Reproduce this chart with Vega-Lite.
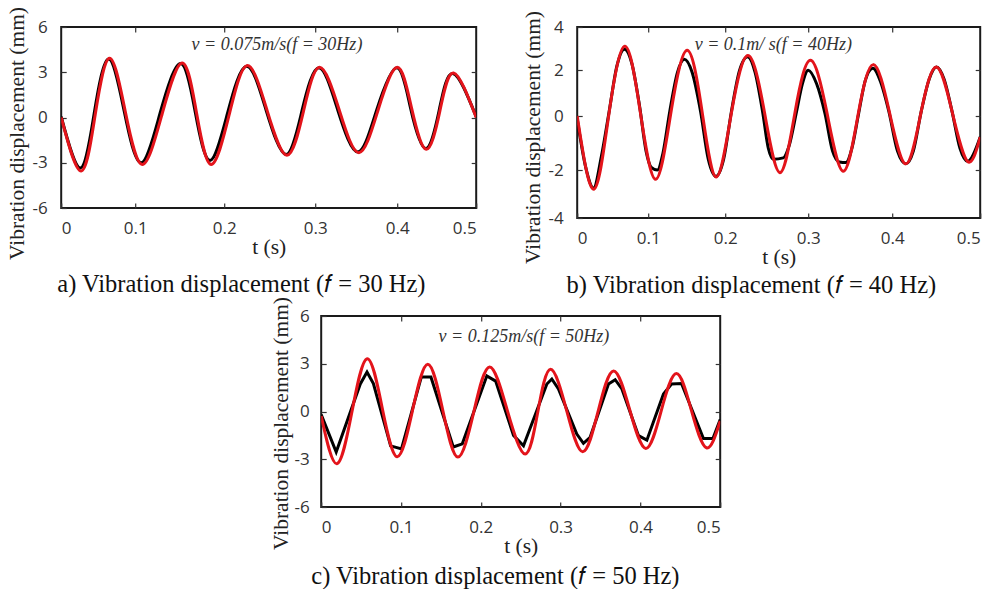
{
  "$schema": "https://vega.github.io/schema/vega-lite/v6.json",
  "background": "white",
  "padding": {"left": 5, "top": 5, "right": 3, "bottom": 0},
  "config": {
    "view": {"stroke": "#1a1a1a", "strokeWidth": 2},
    "title": {"font": "Liberation Serif", "fontSize": 24.5, "fontWeight": "normal", "color": "#111", "orient": "bottom", "anchor": "middle", "frame": "bounds", "offset": 8},
    "axis": {"grid": false, "domain": false, "tickSize": -5, "tickColor": "#333", "tickWidth": 1.2, "labelFont": "Open Sans", "labelFontSize": 17, "labelColor": "#333", "titleFont": "Liberation Serif", "titleFontSize": 21.5, "titleFontWeight": "normal", "titleColor": "#222"},
    "text": {"font": "Liberation Serif", "fontStyle": "italic", "fontSize": 18, "color": "#333"}
  },
  "datasets": {
    "a": [
      {"series": "Measured", "t": 0, "v": 0.05}, {"series": "Measured", "t": 0.026, "v": -3.35}, {"series": "Measured", "t": 0.0445, "v": 0.25}, {"series": "Measured", "t": 0.064, "v": 3.88}, {"series": "Measured", "t": 0.085, "v": 0.45}, {"series": "Measured", "t": 0.1065, "v": -3.0}, {"series": "Measured", "t": 0.128, "v": 0.3}, {"series": "Measured", "t": 0.151, "v": 3.58}, {"series": "Measured", "t": 0.1675, "v": 0.35}, {"series": "Measured", "t": 0.184, "v": -2.85}, {"series": "Measured", "t": 0.2035, "v": 0.25}, {"series": "Measured", "t": 0.2245, "v": 3.4}, {"series": "Measured", "t": 0.246, "v": 0.5}, {"series": "Measured", "t": 0.268, "v": -2.45}, {"series": "Measured", "t": 0.2855, "v": 0.45}, {"series": "Measured", "t": 0.3045, "v": 3.3}, {"series": "Measured", "t": 0.3275, "v": 0.5}, {"series": "Measured", "t": 0.352, "v": -2.28}, {"series": "Measured", "t": 0.375, "v": 0.5}, {"series": "Measured", "t": 0.3995, "v": 3.3}, {"series": "Measured", "t": 0.417, "v": 0.6}, {"series": "Measured", "t": 0.436, "v": -2.05}, {"series": "Measured", "t": 0.453, "v": 0.45}, {"series": "Measured", "t": 0.4705, "v": 2.92}, {"series": "Measured", "t": 0.5, "v": 0.05},
      {"series": "Simulated", "t": 0, "v": 0}, {"series": "Simulated", "t": 0.027, "v": -3.55}, {"series": "Simulated", "t": 0.046, "v": 0.2}, {"series": "Simulated", "t": 0.0653, "v": 3.93}, {"series": "Simulated", "t": 0.0866, "v": 0.4}, {"series": "Simulated", "t": 0.1079, "v": -3.11}, {"series": "Simulated", "t": 0.1303, "v": 0.25}, {"series": "Simulated", "t": 0.1528, "v": 3.62}, {"series": "Simulated", "t": 0.1691, "v": 0.25}, {"series": "Simulated", "t": 0.1854, "v": -3.11}, {"series": "Simulated", "t": 0.2054, "v": 0.17}, {"series": "Simulated", "t": 0.2253, "v": 3.44}, {"series": "Simulated", "t": 0.2471, "v": 0.47}, {"series": "Simulated", "t": 0.2689, "v": -2.51}, {"series": "Simulated", "t": 0.2871, "v": 0.41}, {"series": "Simulated", "t": 0.3053, "v": 3.33}, {"series": "Simulated", "t": 0.3293, "v": 0.5}, {"series": "Simulated", "t": 0.3533, "v": -2.33}, {"series": "Simulated", "t": 0.3767, "v": 0.5}, {"series": "Simulated", "t": 0.4, "v": 3.33}, {"series": "Simulated", "t": 0.4183, "v": 0.6}, {"series": "Simulated", "t": 0.4367, "v": -2.11}, {"series": "Simulated", "t": 0.454, "v": 0.42}, {"series": "Simulated", "t": 0.4713, "v": 2.95}, {"series": "Simulated", "t": 0.5, "v": 0}
    ],
    "bBlack": [
      {"series": "Measured", "t": 0, "v": -0.1}, {"series": "Measured", "t": 0.012, "v": -1.9}, {"series": "Measured", "t": 0.023, "v": -2.75}, {"series": "Measured", "t": 0.034, "v": -1.5}, {"series": "Measured", "t": 0.045, "v": 0.2}, {"series": "Measured", "t": 0.056, "v": 2.2}, {"series": "Measured", "t": 0.0665, "v": 2.97}, {"series": "Measured", "t": 0.077, "v": 2.3}, {"series": "Measured", "t": 0.088, "v": 0.4}, {"series": "Measured", "t": 0.097, "v": -1.3}, {"series": "Measured", "t": 0.104, "v": -1.9}, {"series": "Measured", "t": 0.112, "v": -2.0}, {"series": "Measured", "t": 0.119, "v": -1.4}, {"series": "Measured", "t": 0.128, "v": 0.2}, {"series": "Measured", "t": 0.138, "v": 1.9}, {"series": "Measured", "t": 0.147, "v": 2.5}, {"series": "Measured", "t": 0.157, "v": 1.9}, {"series": "Measured", "t": 0.168, "v": 0.2}, {"series": "Measured", "t": 0.178, "v": -1.6}, {"series": "Measured", "t": 0.188, "v": -2.27}, {"series": "Measured", "t": 0.198, "v": -1.6}, {"series": "Measured", "t": 0.2075, "v": 0.2}, {"series": "Measured", "t": 0.217, "v": 1.95}, {"series": "Measured", "t": 0.227, "v": 2.62}, {"series": "Measured", "t": 0.236, "v": 1.9}, {"series": "Measured", "t": 0.245, "v": 0.2}, {"series": "Measured", "t": 0.252, "v": -1.2}, {"series": "Measured", "t": 0.258, "v": -1.6}, {"series": "Measured", "t": 0.27, "v": -1.55}, {"series": "Measured", "t": 0.277, "v": -1.1}, {"series": "Measured", "t": 0.286, "v": 0.2}, {"series": "Measured", "t": 0.293, "v": 1.4}, {"series": "Measured", "t": 0.3, "v": 1.99}, {"series": "Measured", "t": 0.31, "v": 1.4}, {"series": "Measured", "t": 0.32, "v": 0.1}, {"series": "Measured", "t": 0.329, "v": -1.3}, {"series": "Measured", "t": 0.337, "v": -1.7}, {"series": "Measured", "t": 0.345, "v": -1.72}, {"series": "Measured", "t": 0.352, "v": -1.2}, {"series": "Measured", "t": 0.36, "v": 0.1}, {"series": "Measured", "t": 0.368, "v": 1.55}, {"series": "Measured", "t": 0.377, "v": 2.08}, {"series": "Measured", "t": 0.386, "v": 1.5}, {"series": "Measured", "t": 0.396, "v": 0.2}, {"series": "Measured", "t": 0.406, "v": -1.3}, {"series": "Measured", "t": 0.4156, "v": -1.77}, {"series": "Measured", "t": 0.424, "v": -1.3}, {"series": "Measured", "t": 0.433, "v": 0.2}, {"series": "Measured", "t": 0.442, "v": 1.6}, {"series": "Measured", "t": 0.4503, "v": 2.14}, {"series": "Measured", "t": 0.459, "v": 1.6}, {"series": "Measured", "t": 0.468, "v": 0.2}, {"series": "Measured", "t": 0.477, "v": -1.2}, {"series": "Measured", "t": 0.4856, "v": -1.68}, {"series": "Measured", "t": 0.5, "v": -0.78}
    ],
    "bRed": [
      {"series": "Simulated", "t": 0, "v": 0}, {"series": "Simulated", "t": 0.0235, "v": -2.8}, {"series": "Simulated", "t": 0.045, "v": 0.15}, {"series": "Simulated", "t": 0.067, "v": 3.1}, {"series": "Simulated", "t": 0.088, "v": 0.35}, {"series": "Simulated", "t": 0.1095, "v": -2.39}, {"series": "Simulated", "t": 0.13, "v": 0.25}, {"series": "Simulated", "t": 0.1506, "v": 2.92}, {"series": "Simulated", "t": 0.1695, "v": 0.3}, {"series": "Simulated", "t": 0.1883, "v": -2.29}, {"series": "Simulated", "t": 0.2078, "v": 0.2}, {"series": "Simulated", "t": 0.2273, "v": 2.68}, {"series": "Simulated", "t": 0.2466, "v": 0.3}, {"series": "Simulated", "t": 0.2659, "v": -2.11}, {"series": "Simulated", "t": 0.2843, "v": 0.2}, {"series": "Simulated", "t": 0.3027, "v": 2.45}, {"series": "Simulated", "t": 0.322, "v": 0.2}, {"series": "Simulated", "t": 0.3417, "v": -2.05}, {"series": "Simulated", "t": 0.3596, "v": 0.1}, {"series": "Simulated", "t": 0.3774, "v": 2.25}, {"series": "Simulated", "t": 0.3965, "v": 0.2}, {"series": "Simulated", "t": 0.4156, "v": -1.77}, {"series": "Simulated", "t": 0.433, "v": 0.2}, {"series": "Simulated", "t": 0.4503, "v": 2.14}, {"series": "Simulated", "t": 0.468, "v": 0.2}, {"series": "Simulated", "t": 0.4856, "v": -1.68}, {"series": "Simulated", "t": 0.5, "v": -0.78}
    ],
    "cBlack": [
      {"series": "Measured", "t": 0, "v": -0.2}, {"series": "Measured", "t": 0.0188, "v": -2.55}, {"series": "Measured", "t": 0.049, "v": 1.73}, {"series": "Measured", "t": 0.0574, "v": 2.48}, {"series": "Measured", "t": 0.0654, "v": 1.75}, {"series": "Measured", "t": 0.087, "v": -2.16}, {"series": "Measured", "t": 0.1006, "v": -2.35}, {"series": "Measured", "t": 0.1255, "v": 2.17}, {"series": "Measured", "t": 0.1375, "v": 2.17}, {"series": "Measured", "t": 0.1655, "v": -2.23}, {"series": "Measured", "t": 0.1768, "v": -2.03}, {"series": "Measured", "t": 0.2076, "v": 2.24}, {"series": "Measured", "t": 0.2186, "v": 1.91}, {"series": "Measured", "t": 0.241, "v": -1.5}, {"series": "Measured", "t": 0.2535, "v": -2.15}, {"series": "Measured", "t": 0.2828, "v": 1.73}, {"series": "Measured", "t": 0.289, "v": 2.04}, {"series": "Measured", "t": 0.2973, "v": 1.42}, {"series": "Measured", "t": 0.3203, "v": -1.42}, {"series": "Measured", "t": 0.3286, "v": -2.0}, {"series": "Measured", "t": 0.337, "v": -1.62}, {"series": "Measured", "t": 0.36, "v": 1.73}, {"series": "Measured", "t": 0.3684, "v": 2.0}, {"series": "Measured", "t": 0.3768, "v": 1.42}, {"series": "Measured", "t": 0.3976, "v": -1.52}, {"series": "Measured", "t": 0.4081, "v": -1.8}, {"series": "Measured", "t": 0.4289, "v": 1.1}, {"series": "Measured", "t": 0.439, "v": 1.73}, {"series": "Measured", "t": 0.4515, "v": 1.76}, {"series": "Measured", "t": 0.479, "v": -1.7}, {"series": "Measured", "t": 0.491, "v": -1.69}, {"series": "Measured", "t": 0.5, "v": -0.5}
    ],
    "cRed": [
      {"series": "Simulated", "t": 0, "v": -0.28}, {"series": "Simulated", "t": 0.0196, "v": -3.28}, {"series": "Simulated", "t": 0.0386, "v": 0.0}, {"series": "Simulated", "t": 0.0576, "v": 3.32}, {"series": "Simulated", "t": 0.0764, "v": 0.24}, {"series": "Simulated", "t": 0.0952, "v": -2.84}, {"series": "Simulated", "t": 0.1144, "v": 0.06}, {"series": "Simulated", "t": 0.1336, "v": 2.97}, {"series": "Simulated", "t": 0.1525, "v": 0.05}, {"series": "Simulated", "t": 0.1713, "v": -2.86}, {"series": "Simulated", "t": 0.1912, "v": -0.03}, {"series": "Simulated", "t": 0.211, "v": 2.8}, {"series": "Simulated", "t": 0.2333, "v": 0.06}, {"series": "Simulated", "t": 0.2556, "v": -2.67}, {"series": "Simulated", "t": 0.2715, "v": -0.01}, {"series": "Simulated", "t": 0.2874, "v": 2.65}, {"series": "Simulated", "t": 0.3076, "v": 0.06}, {"series": "Simulated", "t": 0.3277, "v": -2.53}, {"series": "Simulated", "t": 0.347, "v": 0.01}, {"series": "Simulated", "t": 0.3663, "v": 2.55}, {"series": "Simulated", "t": 0.3866, "v": 0.11}, {"series": "Simulated", "t": 0.4068, "v": -2.32}, {"series": "Simulated", "t": 0.426, "v": 0.03}, {"series": "Simulated", "t": 0.4452, "v": 2.38}, {"series": "Simulated", "t": 0.464, "v": 0.05}, {"series": "Simulated", "t": 0.4828, "v": -2.28}, {"series": "Simulated", "t": 0.5, "v": -0.6}
    ]
  },
  "vconcat": [
    {
      "hconcat": [
        {
          "width": 415, "height": 181,
          "title": {"text": "a) Vibration displacement (𝑓 = 30 Hz)", "offset": 13},
          "layer": [
            {
              "data": {"name": "a"},
              "mark": {"type": "line", "interpolate": "natural", "strokeWidth": 3, "clip": true},
              "encoding": {
                "x": {"field": "t", "type": "quantitative", "scale": {"domain": [0, 0.1, 0.2, 0.3, 0.4, 0.5], "range": [0, 74, 163, 254, 336, 415], "nice": false, "zero": false},
                  "axis": {"orient": "bottom", "values": [0, 0.1, 0.2, 0.3, 0.4, 0.5], "labelExpr": "datum.value == 0 ? '0' : format(datum.value, '.1f')", "labelPadding": 17, "title": "t (s)", "titleFont": "Liberation Serif", "titleFontSize": 21.5, "titleFontWeight": "normal", "titlePadding": 0}},
                "y": {"field": "v", "type": "quantitative", "scale": {"domain": [-6, 6], "nice": false, "zero": false},
                  "axis": {"orient": "left", "values": [-6, -3, 0, 3, 6], "labelExpr": "replace(datum.label, '−', '-')", "labelPadding": 19, "title": "Vibration displacement (mm)", "titleFont": "Liberation Serif", "titleFontSize": 21.5, "titleFontWeight": "normal", "titleY": 106, "titlePadding": 4}},
                "color": {"field": "series", "type": "nominal", "scale": {"domain": ["Measured", "Simulated"], "range": ["#000000", "#e3141b"]}, "legend": null}
              }
            },
            {
              "data": {"values": [{"t": 0.258, "v": 4.8, "label": "v = 0.075m/s(f = 30Hz)"}]},
              "mark": {"type": "text"},
              "encoding": {
                "x": {"field": "t", "type": "quantitative", "scale": {"domain": [0, 0.1, 0.2, 0.3, 0.4, 0.5], "range": [0, 74, 163, 254, 336, 415], "nice": false, "zero": false},
                  "axis": {"orient": "top", "values": [0.1, 0.2, 0.3, 0.4], "labels": false, "title": null}},
                "y": {"field": "v", "type": "quantitative", "scale": {"domain": [-6, 6], "nice": false, "zero": false},
                  "axis": {"orient": "right", "values": [-3, 0, 3], "labels": false, "title": null}},
                "text": {"field": "label"}
              }
            }
          ],
          "resolve": {"axis": {"x": "independent", "y": "independent"}}
        },
        {
          "width": 403, "height": 191,
          "title": {"text": "b) Vibration displacement (𝑓 = 40 Hz)", "offset": 6},
          "layer": [
            {
              "data": {"name": "bBlack"},
              "mark": {"type": "line", "interpolate": "monotone", "strokeWidth": 3, "clip": true, "color": "#000000"},
              "encoding": {
                "x": {"field": "t", "type": "quantitative", "scale": {"domain": [0, 0.1, 0.2, 0.3, 0.4, 0.5], "range": [0, 71, 148, 231, 315, 403], "nice": false, "zero": false},
                  "axis": {"orient": "bottom", "values": [0, 0.1, 0.2, 0.3, 0.4, 0.5], "labelExpr": "datum.value == 0 ? '0' : format(datum.value, '.1f')", "labelPadding": 17, "title": "t (s)", "titleFont": "Liberation Serif", "titleFontSize": 21.5, "titleFontWeight": "normal", "titlePadding": 0}},
                "y": {"field": "v", "type": "quantitative", "scale": {"domain": [-4, -2, 0, 2, 4], "range": [191, 143, 89, 43, 0], "nice": false, "zero": false},
                  "axis": {"orient": "left", "values": [-4, -2, 0, 2, 4], "labelExpr": "replace(datum.label, '−', '-')", "labelPadding": 19, "title": "Vibration displacement (mm)", "titleFont": "Liberation Serif", "titleFontSize": 21.5, "titleFontWeight": "normal", "titleY": 110, "titlePadding": 4}}
              }
            },
            {
              "data": {"name": "bRed"},
              "mark": {"type": "line", "interpolate": "natural", "strokeWidth": 3, "clip": true, "color": "#e3141b"},
              "encoding": {
                "x": {"field": "t", "type": "quantitative", "scale": {"domain": [0, 0.1, 0.2, 0.3, 0.4, 0.5], "range": [0, 71, 148, 231, 315, 403], "nice": false, "zero": false}, "axis": null},
                "y": {"field": "v", "type": "quantitative", "scale": {"domain": [-4, -2, 0, 2, 4], "range": [191, 143, 89, 43, 0], "nice": false, "zero": false}, "axis": null}
              }
            },
            {
              "data": {"values": [{"t": 0.258, "v": 3.16, "label": "v = 0.1m/ s(f = 40Hz)"}]},
              "mark": {"type": "text"},
              "encoding": {
                "x": {"field": "t", "type": "quantitative", "scale": {"domain": [0, 0.1, 0.2, 0.3, 0.4, 0.5], "range": [0, 71, 148, 231, 315, 403], "nice": false, "zero": false},
                  "axis": {"orient": "top", "values": [0.1, 0.2, 0.3, 0.4], "labels": false, "title": null}},
                "y": {"field": "v", "type": "quantitative", "scale": {"domain": [-4, -2, 0, 2, 4], "range": [191, 143, 89, 43, 0], "nice": false, "zero": false},
                  "axis": {"orient": "right", "values": [-2, 0, 2], "labels": false, "title": null}},
                "text": {"field": "label"}
              }
            }
          ],
          "resolve": {"axis": {"x": "independent", "y": "independent"}}
        }
      ],
      "spacing": 42
    },
    {
      "width": 399, "height": 191,
      "title": {"text": "c) Vibration displacement (𝑓 = 50 Hz)"},
      "layer": [
        {
          "data": {"name": "cBlack"},
          "mark": {"type": "line", "strokeWidth": 3, "clip": true, "color": "#000000"},
          "encoding": {
            "x": {"field": "t", "type": "quantitative", "scale": {"domain": [0, 0.5], "nice": false, "zero": false},
              "axis": {"orient": "bottom", "values": [0, 0.1, 0.2, 0.3, 0.4, 0.5], "labelExpr": "datum.value == 0 ? '0' : format(datum.value, '.1f')", "labelPadding": 17, "title": "t (s)", "titleFont": "Liberation Serif", "titleFontSize": 21.5, "titleFontWeight": "normal", "titlePadding": 0}},
            "y": {"field": "v", "type": "quantitative", "scale": {"domain": [-6, 6], "nice": false, "zero": false},
              "axis": {"orient": "left", "values": [-6, -3, 0, 3, 6], "labelExpr": "replace(datum.label, '−', '-')", "labelPadding": 17, "title": "Vibration displacement (mm)", "titleFont": "Liberation Serif", "titleFontSize": 21.5, "titleFontWeight": "normal", "titleY": 107, "titlePadding": 2}}
          }
        },
        {
          "data": {"name": "cRed"},
          "mark": {"type": "line", "interpolate": "natural", "strokeWidth": 3, "clip": true, "color": "#e3141b"},
          "encoding": {
            "x": {"field": "t", "type": "quantitative", "scale": {"domain": [0, 0.5], "nice": false, "zero": false}, "axis": null},
            "y": {"field": "v", "type": "quantitative", "scale": {"domain": [-6, 6], "nice": false, "zero": false}, "axis": null}
          }
        },
        {
          "data": {"values": [{"t": 0.254, "v": 4.67, "label": "v = 0.125m/s(f = 50Hz)"}]},
          "mark": {"type": "text"},
          "encoding": {
            "x": {"field": "t", "type": "quantitative", "scale": {"domain": [0, 0.5], "nice": false, "zero": false},
              "axis": {"orient": "top", "values": [0.1, 0.2, 0.3, 0.4], "labels": false, "title": null}},
            "y": {"field": "v", "type": "quantitative", "scale": {"domain": [-6, 6], "nice": false, "zero": false},
              "axis": {"orient": "right", "values": [-3, 0, 3], "labels": false, "title": null}},
            "text": {"field": "label"}
          }
        }
      ],
      "resolve": {"axis": {"x": "independent", "y": "independent"}}
    }
  ],
  "spacing": -3,
  "center": true
}
